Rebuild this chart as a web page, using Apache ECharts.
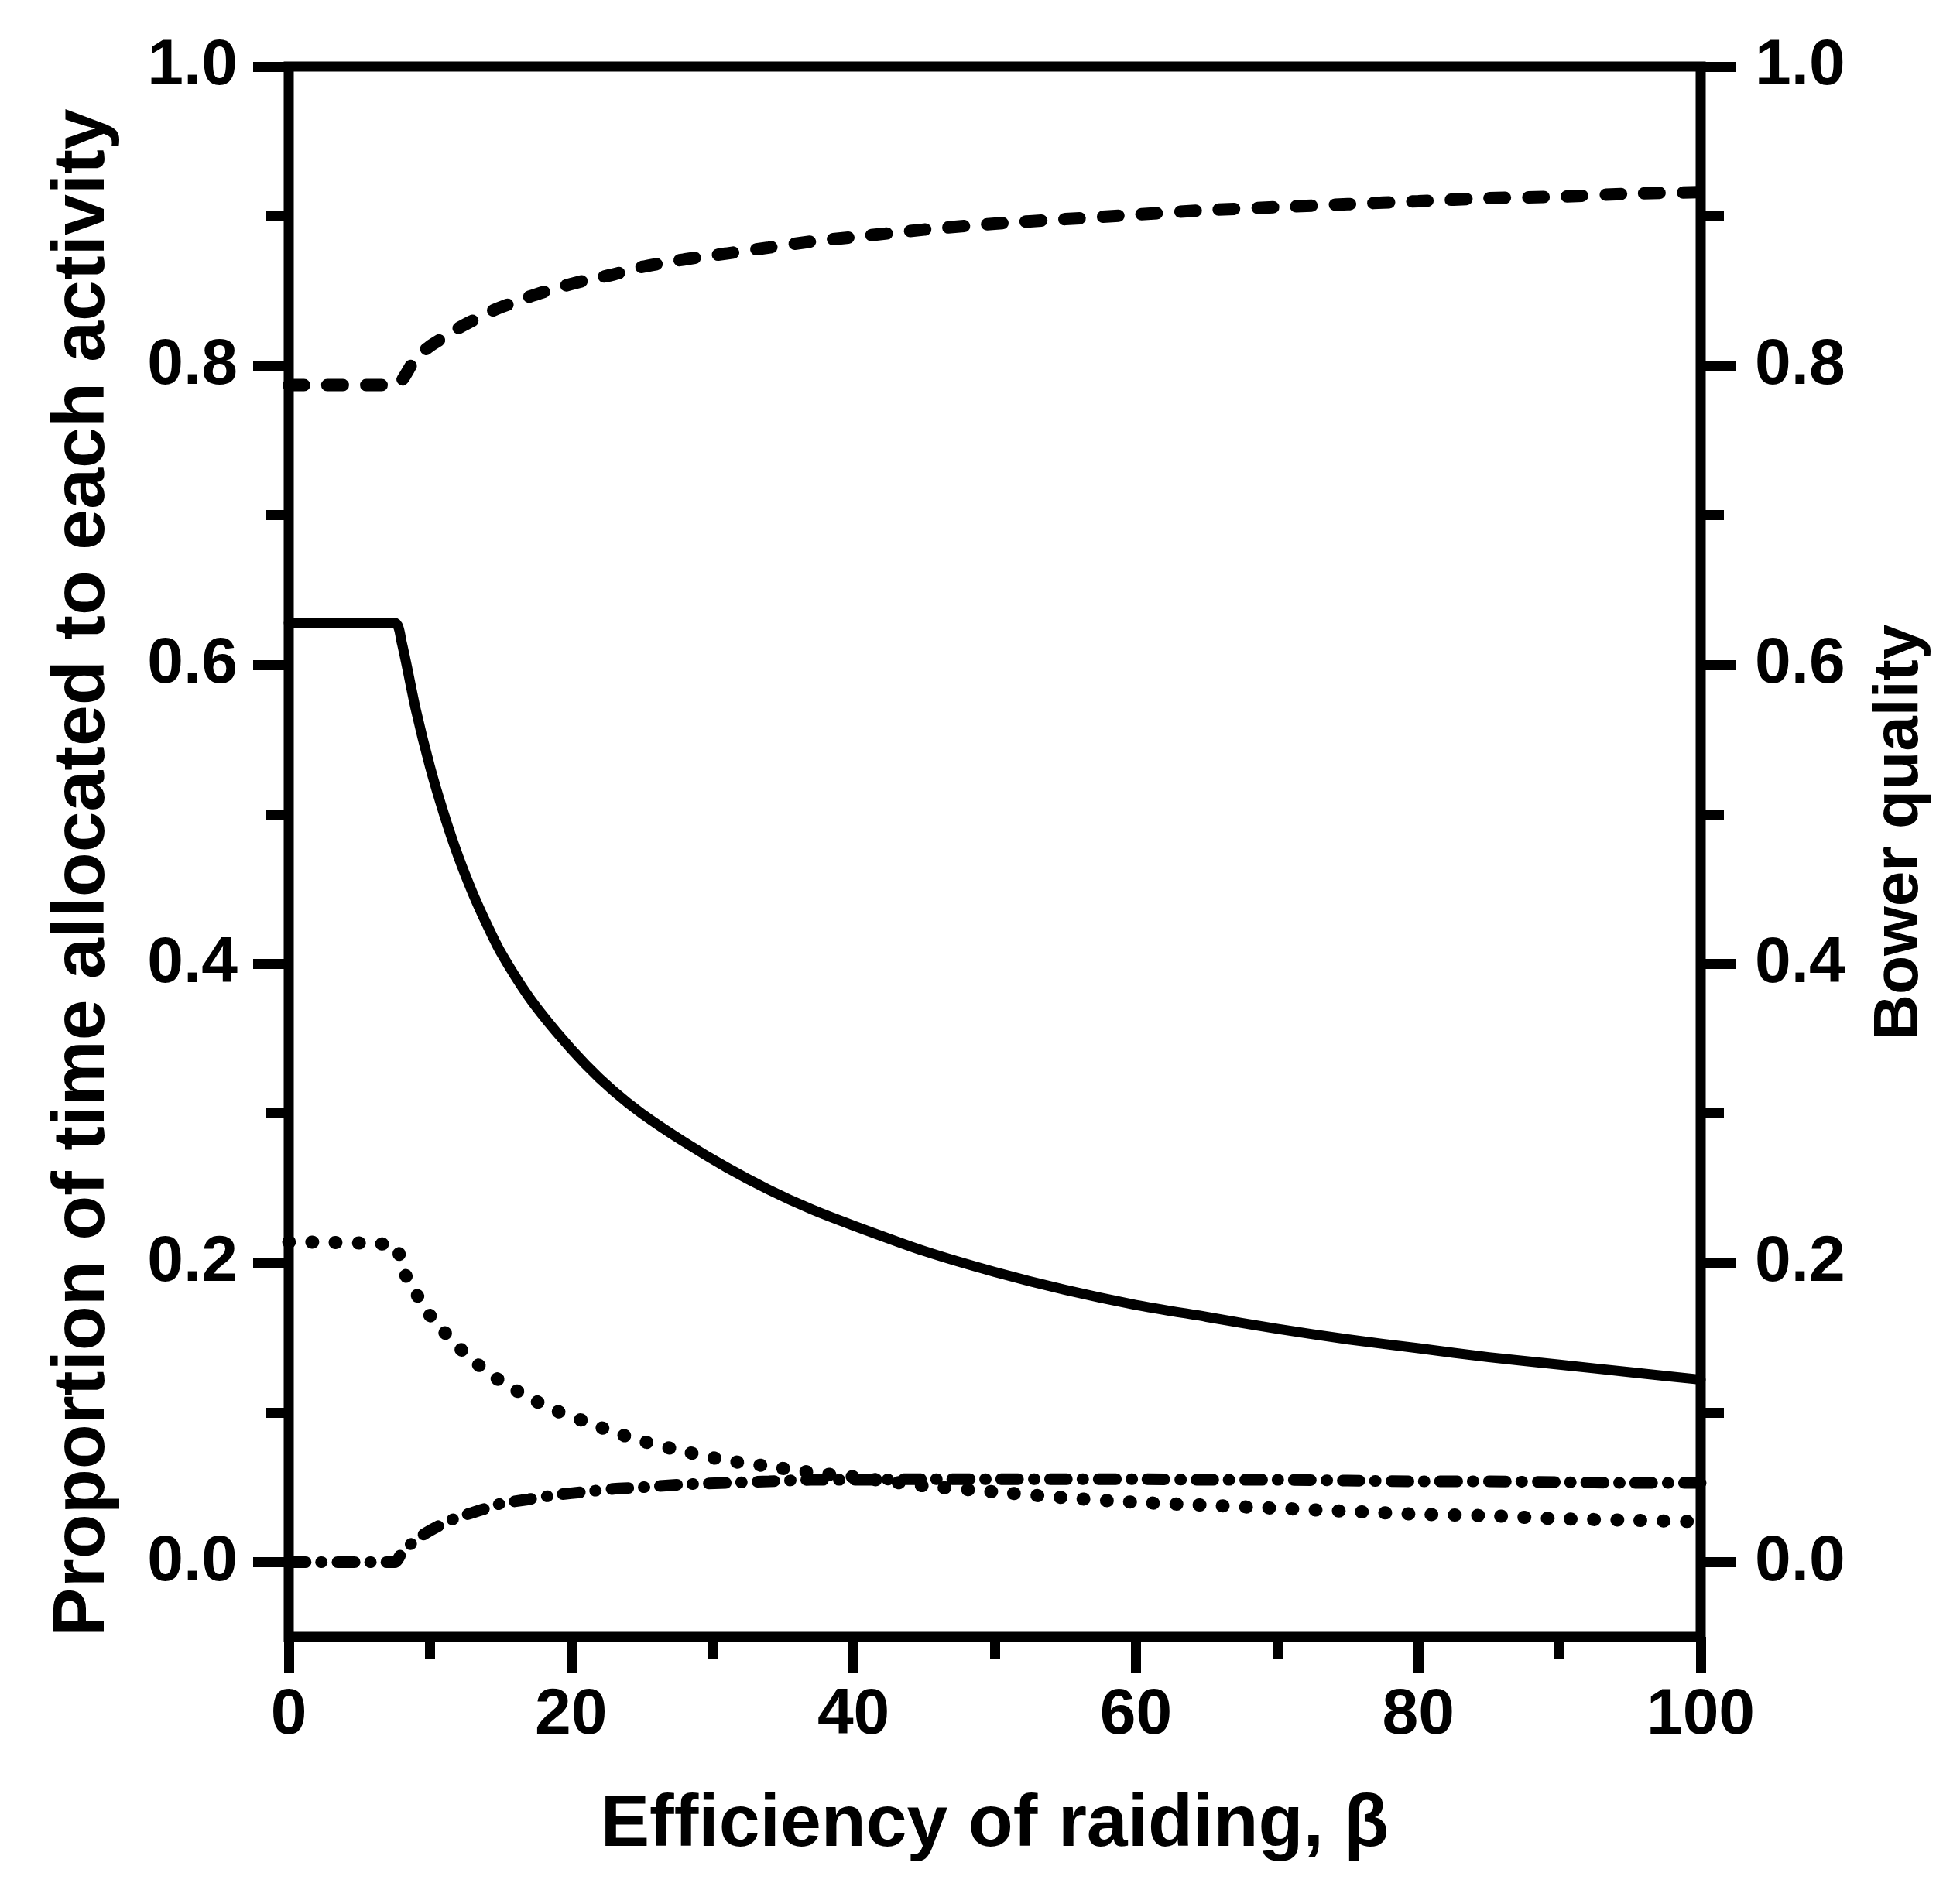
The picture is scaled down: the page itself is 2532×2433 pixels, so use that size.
<!DOCTYPE html>
<html>
<head>
<meta charset="utf-8">
<script src="https://cdn.jsdelivr.net/npm/echarts@6/dist/echarts.min.js"></script>
<style>
  html, body { margin: 0; padding: 0; background: #fff; }
  #chart { width: 2532px; height: 2433px; }
</style>
</head>
<body>
<div id="chart"></div>
<script>
// Efficiency of raiding (x values shared by all curves)
const beta = [0, 7.5, 8, 9, 10, 11, 12, 13, 14, 15, 17, 19, 21, 23, 25, 28, 31, 34, 37, 40, 45, 50, 55, 60, 65, 70, 75, 80, 85, 90, 95, 100];

// Dashed curve (upper)
const dashedVals = [0.787, 0.787, 0.790, 0.805, 0.813, 0.819, 0.825, 0.830, 0.835, 0.839, 0.846, 0.852, 0.857, 0.861, 0.866, 0.871, 0.875, 0.879, 0.883, 0.886, 0.891, 0.895, 0.898, 0.901, 0.904, 0.906, 0.908, 0.910, 0.912, 0.913, 0.915, 0.916];

// Solid curve
const solidVals = [0.628, 0.628, 0.615, 0.570, 0.532, 0.500, 0.472, 0.448, 0.427, 0.408, 0.378, 0.354, 0.333, 0.315, 0.300, 0.281, 0.264, 0.249, 0.236, 0.225, 0.208, 0.194, 0.182, 0.172, 0.164, 0.156, 0.149, 0.143, 0.137, 0.132, 0.127, 0.122];

// Dotted curve
const dottedVals = [0.214, 0.212, 0.197, 0.180, 0.165, 0.154, 0.144, 0.135, 0.128, 0.121, 0.110, 0.101, 0.094, 0.087, 0.081, 0.074, 0.068, 0.064, 0.060, 0.057, 0.051, 0.047, 0.043, 0.040, 0.038, 0.036, 0.034, 0.032, 0.031, 0.029, 0.028, 0.027];

// Dash-dot curve
const dashDotVals = [0.000, 0.000, 0.006, 0.015, 0.021, 0.026, 0.030, 0.033, 0.036, 0.039, 0.042, 0.045, 0.047, 0.049, 0.050, 0.052, 0.053, 0.054, 0.055, 0.055, 0.0555, 0.0555, 0.0555, 0.0555, 0.055, 0.055, 0.0545, 0.054, 0.054, 0.0535, 0.053, 0.053];

// Tick values
const yMajorTicks = [0, 0.2, 0.4, 0.6, 0.8, 1.0];
const yMinorTicks = [0.1, 0.3, 0.5, 0.7, 0.9];

const xTitle = 'Efficiency of raiding, \u03B2';
const yLeftTitle = 'Proportion of time allocated to each activity';
const yRightTitle = 'Bower quality';

const FONT = '"Liberation Sans", Arial, Helvetica, sans-serif';
const pair = (vals) => beta.map((b, i) => [b, vals[i]]);

function yAxisDef(pos, major, showName) {
  return {
    type: 'value',
    position: pos,
    min: -0.05,
    max: 1.0,
    axisLine: { show: false, onZero: false },
    splitLine: { show: false },
    axisTick: {
      show: true,
      inside: false,
      length: major ? 46 : 30,
      customValues: major ? yMajorTicks : yMinorTicks,
      lineStyle: { color: '#000', width: 13 }
    },
    axisLabel: {
      show: major,
      customValues: yMajorTicks,
      formatter: (v) => Number(v).toFixed(1),
      fontSize: 84,
      fontWeight: 'bold',
      fontFamily: FONT,
      color: '#000',
      margin: pos === 'left' ? 66 : 70
    },
    name: showName ? (pos === 'left' ? yLeftTitle : yRightTitle) : '',
    nameLocation: 'middle',
    nameGap: pos === 'left' ? 218 : 216,
    nameTextStyle: {
      fontSize: pos === 'left' ? 95 : 82,
      fontWeight: 'bold', fontFamily: FONT, color: '#000',
      padding: pos === 'left' ? [0, 54, 0, 0] : [0, 0, 0, 50]
    }
  };
}

const chart = echarts.init(document.getElementById('chart'), null, { renderer: 'canvas' });
chart.setOption({
  backgroundColor: '#fff',
  animation: false,
  grid: {
    left: 373, right: 335, top: 86, bottom: 318,
    show: true, borderColor: '#000', borderWidth: 13, backgroundColor: 'transparent'
  },
  xAxis: {
    type: 'value',
    min: 0, max: 100, interval: 20,
    axisLine: { show: false, onZero: false },
    splitLine: { show: false },
    axisTick: { show: true, length: 47, lineStyle: { color: '#000', width: 13 } },
    minorTick: { show: true, splitNumber: 2, length: 28, lineStyle: { color: '#000', width: 13 } },
    axisLabel: { fontSize: 84, fontWeight: 'bold', fontFamily: FONT, color: '#000', margin: 60 },
    name: xTitle,
    nameLocation: 'middle',
    nameGap: 196,
    nameTextStyle: { fontSize: 95, fontWeight: 'bold', fontFamily: FONT, color: '#000' }
  },
  yAxis: [
    yAxisDef('left', true, true),
    yAxisDef('left', false, false),
    yAxisDef('right', true, true),
    yAxisDef('right', false, false)
  ],
  series: [
    {
      type: 'line', data: pair(dashedVals), showSymbol: false, symbol: 'none', smooth: 0.25,
      lineStyle: { color: '#000', width: 16, type: [20, 30], cap: 'round' }
    },
    {
      type: 'line', data: pair(solidVals), showSymbol: false, symbol: 'none', smooth: 0.25,
      lineStyle: { color: '#000', width: 13, type: 'solid', cap: 'round', join: 'round' }
    },
    {
      type: 'line', data: pair(dottedVals), showSymbol: false, symbol: 'none', smooth: 0.25,
      lineStyle: { color: '#000', width: 17, type: [1, 29], cap: 'round' }
    },
    {
      type: 'line', data: pair(dashDotVals), showSymbol: false, symbol: 'none', smooth: 0.25,
      lineStyle: { color: '#000', width: 15, type: [22, 20, 1, 20], cap: 'round' }
    }
  ]
});
</script>
</body>
</html>
